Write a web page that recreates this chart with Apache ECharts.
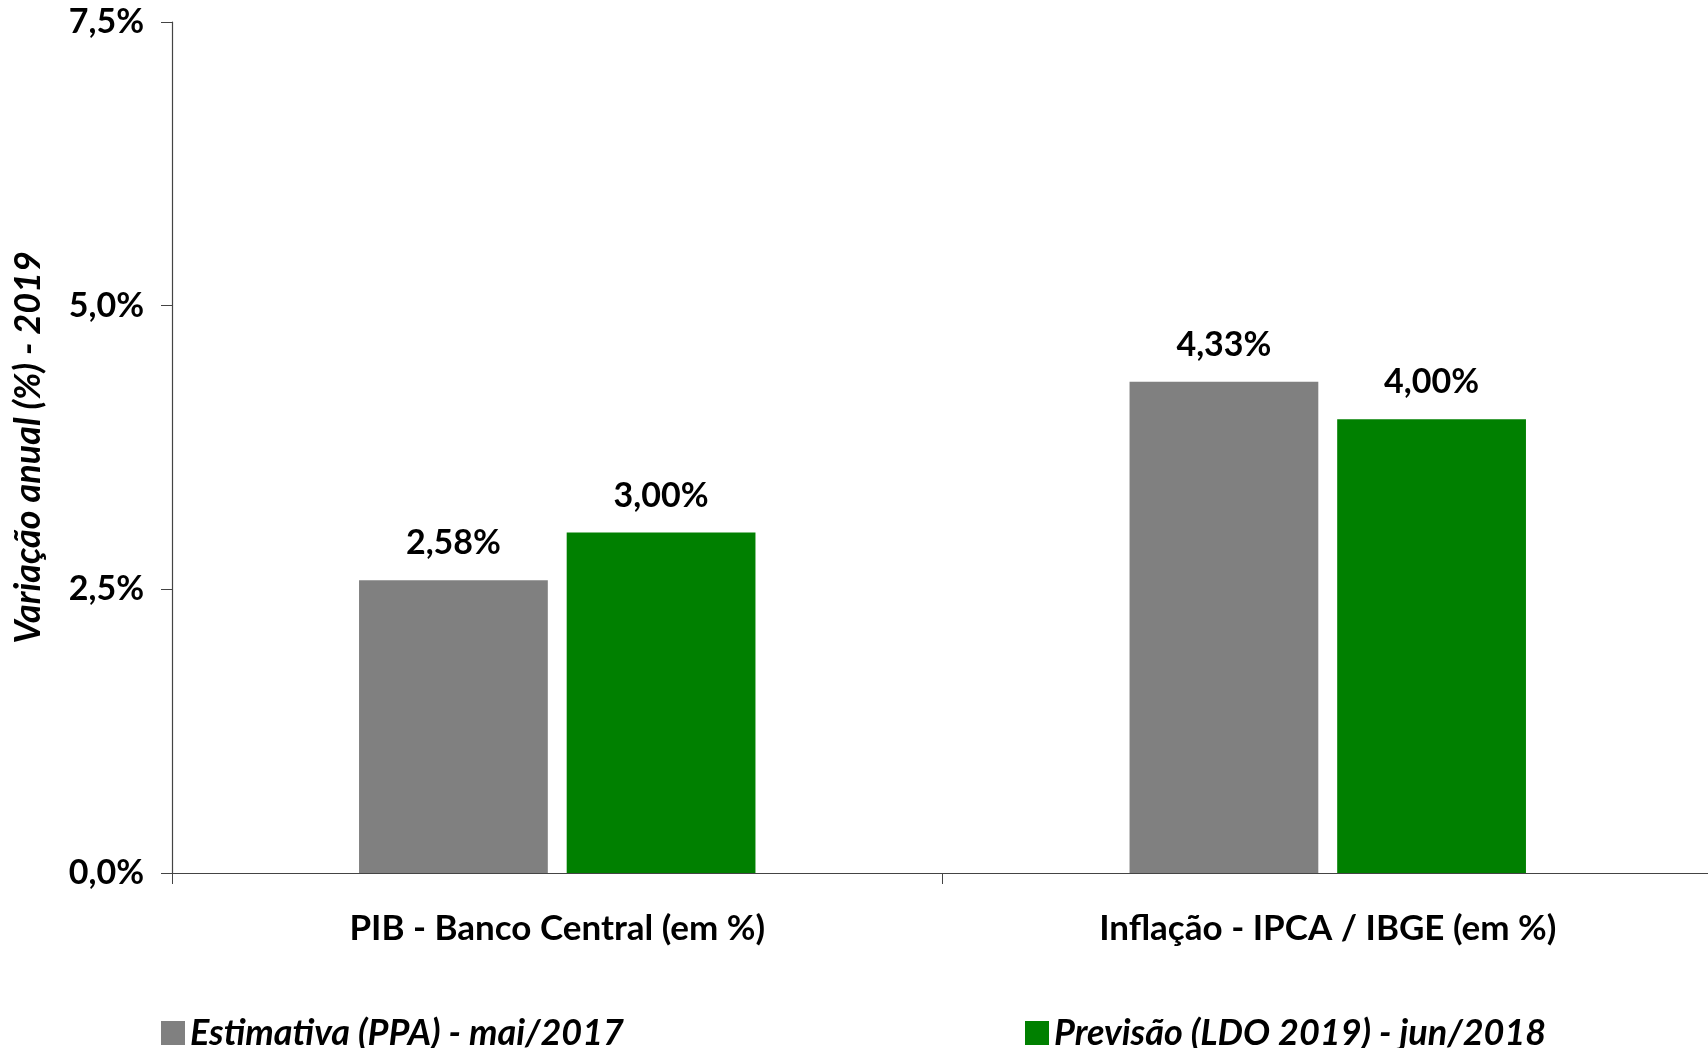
<!DOCTYPE html>
<html>
<head>
<meta charset="utf-8">
<script src="https://cdn.jsdelivr.net/npm/echarts@6/dist/echarts.min.js"></script>
<style>
  html, body { margin: 0; padding: 0; background: #fff; }
  #chart { width: 1708px; height: 1048px; }
</style>
</head>
<body>
<div id="chart"></div>
<script>
// dados do gráfico
const categorias = ['PIB - Banco Central (em %)', 'Inflação - IPCA / IBGE (em %)']
const nomeEstimativa = 'Estimativa (PPA) - mai/2017'
const nomePrevisao = 'Previsão (LDO 2019) - jun/2018'
const estimativa = [2.58, 4.33]
const previsao = [3.00, 4.00]

const fonte = 'Lato, "Open Sans", sans-serif'
const pct = (v, d) => v.toFixed(d).replace('.', ',') + '%'

const chart = echarts.init(document.getElementById('chart'))

const rotulo = {
  show: true,
  position: 'top',
  distance: 20,
  fontFamily: fonte,
  fontWeight: 'bold',
  fontSize: 34,
  color: '#000',
  formatter: p => pct(p.value, 2)
}

const textoLegenda = { fontFamily: fonte, fontSize: 36, fontWeight: 'bold', fontStyle: 'italic', color: '#000' }

let option = {
  animation: false,
  backgroundColor: '#fff',
  grid: {
    left: 172,
    right: -5,
    top: 22,
    bottom: 175,
    containLabel: false,
    outerBoundsMode: 'none'
  },
  legend: [
    {
      data: [nomeEstimativa],
      icon: 'rect',
      left: 156,
      top: 1010,
      itemWidth: 24,
      itemHeight: 24,
      itemGap: 8,
      textStyle: textoLegenda
    },
    {
      data: [nomePrevisao],
      icon: 'rect',
      left: 1020,
      top: 1010,
      itemWidth: 24,
      itemHeight: 24,
      itemGap: 8,
      textStyle: textoLegenda
    }
  ],
  xAxis: {
    type: 'category',
    data: categorias,
    axisLine: { lineStyle: { color: '#444', width: 1.2 } },
    axisTick: { show: true, length: 11, lineStyle: { color: '#444' } },
    axisLabel: {
      margin: 38,
      fontFamily: fonte,
      fontWeight: 'bold',
      fontSize: 35,
      color: '#000'
    }
  },
  yAxis: {
    type: 'value',
    min: 0,
    max: 7.5,
    interval: 2.5,
    name: 'Variação anual (%) - 2019',
    nameLocation: 'middle',
    nameGap: 126,
    nameTextStyle: {
      fontFamily: fonte,
      fontWeight: 'bold',
      fontStyle: 'italic',
      fontSize: 36,
      color: '#000'
    },
    splitLine: { show: false },
    axisLine: { show: true, lineStyle: { color: '#444', width: 1.2 } },
    axisTick: { show: true, length: 11, lineStyle: { color: '#444' } },
    axisLabel: {
      margin: 28,
      fontFamily: fonte,
      fontWeight: 'bold',
      fontSize: 34,
      color: '#000',
      formatter: v => pct(v, 1)
    }
  },
  series: [
    {
      name: nomeEstimativa,
      type: 'bar',
      data: estimativa,
      barWidth: '24.5%',
      barGap: '10%',
      itemStyle: { color: '#808080' },
      label: rotulo
    },
    {
      name: nomePrevisao,
      type: 'bar',
      data: previsao,
      barWidth: '24.5%',
      itemStyle: { color: '#008000' },
      label: rotulo
    }
  ]
}

chart.setOption(option)
</script>
</body>
</html>
